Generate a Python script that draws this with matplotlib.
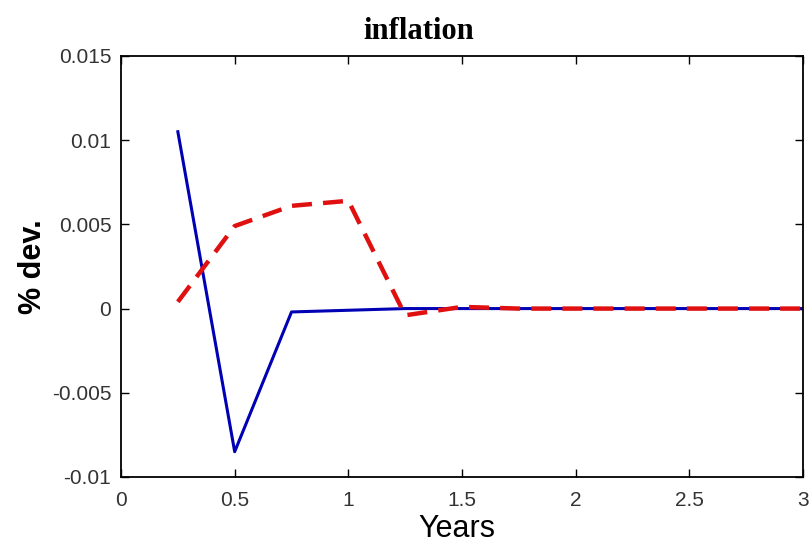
import matplotlib
matplotlib.use("Agg")
import matplotlib.pyplot as plt

# quarterly impulse responses of inflation
years = [0.25, 0.5, 0.75, 1.0, 1.25, 1.5, 1.75, 2.0, 2.25, 2.5, 2.75, 3.0]
model_a = [0.0105, -0.0085, -0.0002, -0.0001, 0.0, 0.0, 0.0, 0.0, 0.0, 0.0, 0.0, 0.0]
model_b = [0.0004, 0.0049, 0.0061, 0.0064, -0.0004, 0.0001, 0.0, 0.0, 0.0, 0.0, 0.0, 0.0]

xticks = [0, 0.5, 1, 1.5, 2, 2.5, 3]
xticklabels = ["0", "0.5", "1", "1.5", "2", "2.5", "3"]
yticks = [-0.01, -0.005, 0, 0.005, 0.01, 0.015]
yticklabels = ["-0.01", "-0.005", "0", "0.005", "0.01", "0.015"]

fig = plt.figure(figsize=(8.1, 5.47), dpi=100)
ax = fig.add_axes([0.1494, 0.128, 0.842, 0.7697])

ax.plot(years, model_a, color="#0000b4", lw=2.2, zorder=2)
ax.plot(years, model_b, color="#e01010", lw=3.2, ls=(0, (4.5, 2.5)), zorder=3)

ax.set_xlim(0, 3)
ax.set_ylim(-0.01, 0.015)
ax.set_xticks(xticks)
ax.set_xticklabels(xticklabels)
ax.set_yticks(yticks)
ax.set_yticklabels(yticklabels)
ax.tick_params(direction="in", top=True, right=True, length=6, width=1,
               labelsize=15, labelcolor="#333333")
ax.tick_params(axis="x", pad=10)
ax.tick_params(axis="y", pad=7)
for tl in ax.get_xticklabels() + ax.get_yticklabels():
    tl.set_family("Liberation Sans")
for sp in ax.spines.values():
    sp.set_linewidth(1.3)

ax.set_title("inflation", family="Liberation Serif", fontweight="bold",
             fontsize=22, pad=12, x=0.437)
ax.set_xlabel("Years", family="Liberation Sans", fontsize=22, labelpad=3,
              x=0.493)
ax.set_ylabel("% dev.", family="Liberation Sans", fontsize=22,
              fontweight="bold", labelpad=3)

fig.savefig("out.png", dpi=100, facecolor="white")
